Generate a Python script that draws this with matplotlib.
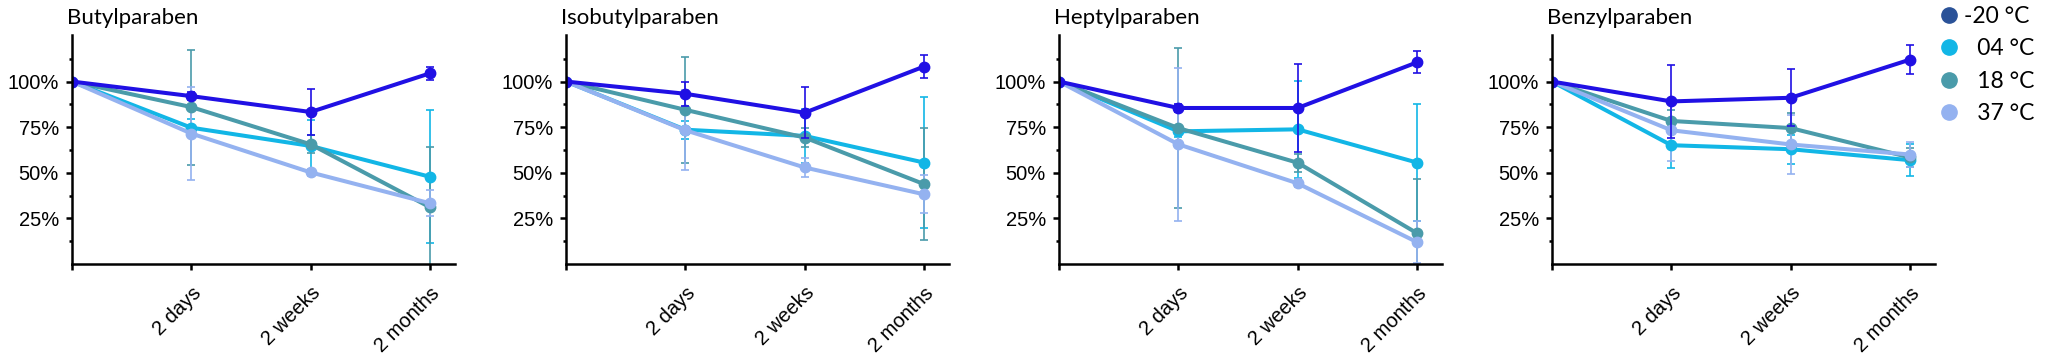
import matplotlib
matplotlib.use("Agg")
import matplotlib.pyplot as plt
from matplotlib.lines import Line2D
from matplotlib.ticker import FixedLocator

# ---- data ----
compounds = ["Butylparaben", "Isobutylparaben", "Heptylparaben", "Benzylparaben"]
temps = ["-20 °C", "\u200704 °C", "\u200718 °C", "\u200737 °C"]
time_labels = ["", "2 days", "2 weeks", "2 months"]

# rows: -20, 04, 18, 37 °C ; columns: start, 2 days, 2 weeks, 2 months (% remaining)
butyl_mean = [[100, 92.0, 83.3, 104.5],
              [100, 74.7, 64.7, 47.8],
              [100, 86.0, 65.6, 31.1],
              [100, 71.5, 50.2, 33.3]]
butyl_err = [[0, 2.0, 12.5, 3.6],
             [0, 5.0, 14.0, 36.4],
             [0, 31.5, 5.0, 33.0],
             [0, 25.5, 2.0, 7.0]]

isobutyl_mean = [[100, 93.3, 82.9, 108.2],
                 [100, 73.6, 70.2, 55.6],
                 [100, 84.5, 69.3, 43.8],
                 [100, 73.3, 52.9, 38.2]]
isobutyl_err = [[0, 6.5, 14.0, 6.5],
                [0, 5.0, 15.0, 36.0],
                [0, 29.0, 5.0, 30.5],
                [0, 22.0, 5.0, 10.5]]

heptyl_mean = [[100, 85.5, 85.5, 110.5],
               [100, 72.7, 73.8, 55.6],
               [100, 74.5, 55.5, 16.9],
               [100, 65.6, 44.2, 12.0]]
heptyl_err = [[0, 2.0, 24.0, 6.0],
              [0, 3.0, 26.4, 32.0],
              [0, 43.7, 5.0, 29.6],
              [0, 42.0, 2.0, 11.5]]

benzyl_mean = [[100, 89.1, 91.1, 112.0],
               [100, 65.1, 62.9, 56.9],
               [100, 78.4, 74.5, 58.4],
               [100, 73.3, 65.5, 60.0]]
benzyl_err = [[0, 20.0, 15.5, 7.8],
              [0, 12.5, 8.0, 8.7],
              [0, 6.0, 8.5, 5.0],
              [0, 17.0, 16.0, 7.0]]

means = [butyl_mean, isobutyl_mean, heptyl_mean, benzyl_mean]
errs = [butyl_err, isobutyl_err, heptyl_err, benzyl_err]

# ---- style ----
line_colors = ["#2010E4", "#12B6E6", "#4A9BAA", "#94B2F0"]
legend_colors = ["#2A5298", "#12B6E6", "#4A9BAA", "#94B2F0"]
draw_order = [1, 2, 3, 0]

W, H = 2050, 364
fig = plt.figure(figsize=(W / 100, H / 100), dpi=100)

lefts = [72, 566, 1059, 1552]
ax_w, ax_top, ax_bottom = 383, 35, 264

tick_font = ["Liberation Sans", "DejaVu Sans"]
title_font = ["Lato", "DejaVu Sans"]

xs = list(range(len(time_labels)))

for k, name in enumerate(compounds):
    ax = fig.add_axes([lefts[k] / W, 1 - ax_bottom / H, ax_w / W, (ax_bottom - ax_top) / H])
    for i in draw_order:
        ax.errorbar(xs, means[k][i], yerr=errs[k][i], errorevery=(1, 1),
                    color=line_colors[i], lw=2.9, marker="o", ms=7.5,
                    elinewidth=1.2, capsize=2.9, capthick=1.2,
                    zorder=3 + (i == 0))
    ax.set_xlim(0, 3.21)
    ax.set_ylim(0, 125.5)
    ax.set_xticks(xs)
    ax.set_xticklabels(time_labels, rotation=45, ha="right", va="top",
                       rotation_mode="anchor", family=tick_font, fontsize=14.5)
    ax.set_yticks([25, 50, 75, 100])
    ax.set_yticklabels(["25%", "50%", "75%", "100%"], family=tick_font, fontsize=14.5)
    ax.yaxis.set_minor_locator(FixedLocator([12.5, 37.5, 62.5, 87.5, 112.5]))
    ax.tick_params(axis="y", which="major", length=4.5, width=1.8, pad=5)
    ax.tick_params(axis="y", which="minor", length=2.5, width=1.8)
    ax.tick_params(axis="x", which="major", length=4, width=1.8, pad=10)
    for s in ["top", "right"]:
        ax.spines[s].set_visible(False)
    for s in ["left", "bottom"]:
        ax.spines[s].set_linewidth(1.8)
        ax.spines[s].set_zorder(5)
    ax.set_title(name, loc="left", x=-0.012, pad=8, family=title_font, fontsize=16)

handles = [Line2D([], [], ls="none", marker="o", ms=11, color=c) for c in legend_colors]
fig.legend(handles, temps, loc="upper left", bbox_to_anchor=(1942 / W, 1 - 6 / H),
           frameon=False, prop={"family": title_font, "size": 16.5},
           handlelength=0.6, handletextpad=0.35, labelspacing=0.5,
           borderaxespad=0, borderpad=0)

fig.savefig("out.png", dpi=100)
